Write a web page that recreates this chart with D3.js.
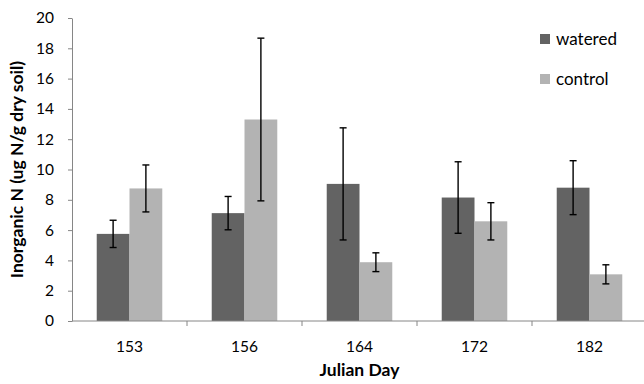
<!DOCTYPE html>
<html>
<head>
<meta charset="utf-8">
<script src="https://cdn.jsdelivr.net/npm/d3@7"></script>
<style>
  body { margin: 0; background: #fff; }
  svg text { font-family: Lato, "Open Sans", sans-serif; fill: #000; }
</style>
</head>
<body>
<svg id="vis" width="644" height="384"></svg>
<script>
// values
const days = ['153', '156', '164', '172', '182'];
const series = ['watered', 'control'];
const watered = [5.75, 7.12, 9.05, 8.15, 8.8];
const wateredErr = [0.9, 1.1, 3.7, 2.36, 1.78];
const control = [8.75, 13.3, 3.88, 6.58, 3.08];
const controlErr = [1.55, 5.37, 0.62, 1.23, 0.63];
const yTicks = [0, 2, 4, 6, 8, 10, 12, 14, 16, 18, 20];

const colors = { watered: '#636363', control: '#b3b3b3' };
const axisColor = '#868686';

const svg = d3.select('#vis');
const plotLeft = 72, plotRight = 647, plotTop = 18, plotBottom = 321;

const x = d3.scaleBand().domain(days).range([plotLeft, plotRight]);
const gap = x.bandwidth() * 0.43;
const x1 = d3.scaleBand().domain(series).range([gap / 2, x.bandwidth() - gap / 2]);
const y = d3.scaleLinear().domain([0, 20]).range([plotBottom, plotTop]);

const rows = days.map((d, i) => ({
  day: d,
  values: [
    { key: 'watered', v: watered[i], e: wateredErr[i] },
    { key: 'control', v: control[i], e: controlErr[i] }
  ]
}));

// bars
const groups = svg.append('g').selectAll('g')
  .data(rows)
  .join('g')
    .attr('transform', d => 'translate(' + x(d.day) + ',0)');

groups.selectAll('rect')
  .data(d => d.values)
  .join('rect')
    .attr('x', d => x1(d.key))
    .attr('y', d => y(d.v))
    .attr('width', x1.bandwidth())
    .attr('height', d => y(0) - y(d.v))
    .attr('fill', d => colors[d.key]);

// error bars
const err = groups.selectAll('g.err')
  .data(d => d.values)
  .join('g')
    .classed('err', true)
    .attr('stroke', '#000')
    .attr('stroke-width', 1.4);

const cx = d => x1(d.key) + x1.bandwidth() / 2;
err.append('line')
  .attr('x1', cx).attr('x2', cx)
  .attr('y1', d => y(d.v + d.e)).attr('y2', d => y(d.v - d.e));
err.append('line')
  .attr('x1', d => cx(d) - 3.5).attr('x2', d => cx(d) + 3.5)
  .attr('y1', d => y(d.v + d.e)).attr('y2', d => y(d.v + d.e));
err.append('line')
  .attr('x1', d => cx(d) - 3.5).attr('x2', d => cx(d) + 3.5)
  .attr('y1', d => y(d.v - d.e)).attr('y2', d => y(d.v - d.e));

// y axis
const yAxis = svg.append('g')
  .attr('transform', 'translate(' + plotLeft + ',0)')
  .call(d3.axisLeft(y).tickValues(yTicks).tickSize(4).tickPadding(14).tickSizeOuter(0));
yAxis.select('.domain').attr('stroke', axisColor);
yAxis.selectAll('.tick line').attr('stroke', axisColor);
yAxis.selectAll('.tick text').attr('font-size', 15.5).attr('font-family', 'Lato, sans-serif');

// x axis
const xAxis = svg.append('g')
  .attr('transform', 'translate(0,' + plotBottom + ')');
xAxis.append('line')
  .attr('x1', plotLeft).attr('x2', plotRight)
  .attr('stroke', axisColor);
xAxis.selectAll('line.tk')
  .data(days)
  .join('line')
    .classed('tk', true)
    .attr('x1', d => x(d) + x.bandwidth())
    .attr('x2', d => x(d) + x.bandwidth())
    .attr('y1', 0).attr('y2', 5)
    .attr('stroke', axisColor);
xAxis.selectAll('text')
  .data(days)
  .join('text')
    .attr('x', d => x(d) + x.bandwidth() / 2)
    .attr('y', 30.5)
    .attr('text-anchor', 'middle')
    .attr('font-size', 15.5)
    .text(d => d);

// axis titles
svg.append('text')
  .attr('x', (plotLeft + plotRight) / 2)
  .attr('y', 376)
  .attr('text-anchor', 'middle')
  .attr('font-size', 17.5)
  .attr('font-weight', 'bold')
  .text('Julian Day');

svg.append('text')
  .attr('transform', 'translate(23,' + (plotTop + plotBottom) / 2 + ') rotate(-90)')
  .attr('text-anchor', 'middle')
  .attr('font-size', 17.5)
  .attr('font-weight', 'bold')
  .text('Inorganic N (ug N/g dry soil)');

// legend
const legend = svg.append('g').selectAll('g')
  .data(series)
  .join('g')
    .attr('transform', (d, i) => 'translate(540,' + (34 + i * 40) + ')');
legend.append('rect')
  .attr('width', 10).attr('height', 10)
  .attr('fill', d => colors[d]);
legend.append('text')
  .attr('x', 16).attr('y', 11)
  .attr('font-size', 17)
  .text(d => d);
</script>
</body>
</html>
